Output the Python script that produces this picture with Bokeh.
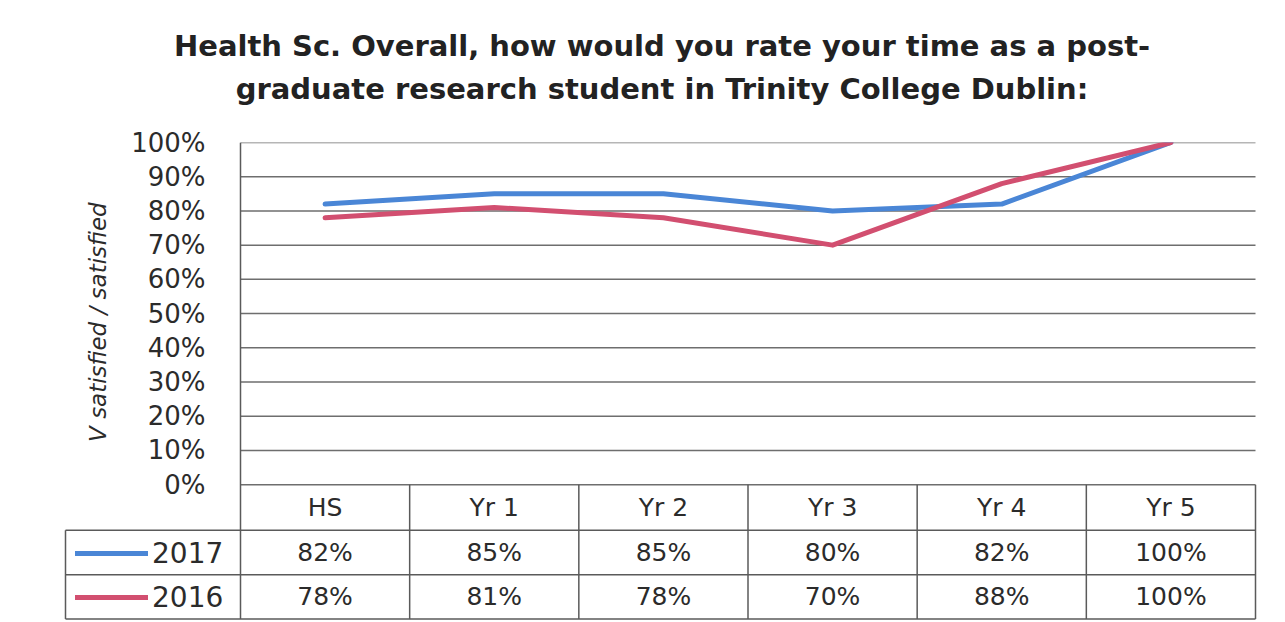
from math import pi
from bokeh.plotting import figure
from bokeh.models import Range1d, FixedTicker, Label, Legend, LegendItem, Title
from bokeh.embed import file_html
from bokeh.resources import INLINE
from bokeh.core.properties import value

categories = ["HS", "Yr 1", "Yr 2", "Yr 3", "Yr 4", "Yr 5"]
series_names = ["2017", "2016"]
values_2017 = [82, 85, 85, 80, 82, 100]
values_2016 = [78, 81, 78, 70, 88, 100]
y_ticks = [0, 10, 20, 30, 40, 50, 60, 70, 80, 90, 100]
title_lines = ["Health Sc. Overall, how would you rate your time as a post-",
               "graduate research student in Trinity College Dublin:"]
y_title = "V satisfied / satisfied"

BLUE = "#4a86d6"
PINK = "#d24f70"
GRID = "#6e6e6e"
BORDER = "#5a5a5a"
TEXT = "#2b2b2b"
FONT = "DejaVu Sans"

n = len(categories)
xs = list(range(n))
bounds = [i - 0.5 for i in range(n + 1)]

# layout constants (table rows below the 0% line, in y-data units)
legend_w = 175 / (1015 / n)        # width of the legend column in category units
tbl_left = -0.5 - legend_w
row_edges = [0, -13.3, -26.3, -39.3]

p = figure(width=1284, height=621,
           x_range=Range1d(-0.5 - 179 / (1015 / n), 5.5 + 7 / (1015 / n)),
           y_range=Range1d(-40, 100),
           output_backend="svg", toolbar_location=None, x_axis_location=None,
           min_border_left=61, min_border_right=22, min_border_top=142, min_border_bottom=0,
           outline_line_color=None, background_fill_color="white", border_fill_color="white",
           title=title_lines[0])
p.grid.visible = False

# titles
p.title.align = "center"
p.title.text_font = FONT
p.title.text_font_style = "bold"
p.title.text_font_size = "29px"
p.title.text_color = "#222222"
p.title.standoff = -61
t2 = Title(text=title_lines[1], align="center", text_font=FONT, text_font_style="bold",
           text_font_size="29px", text_color="#222222", standoff=74)
p.add_layout(t2, "above")

# y axis (labels pulled right to sit next to the plot area)
yax = p.yaxis[0]
yax.ticker = FixedTicker(ticks=y_ticks)
yax.major_label_overrides = {t: f"{t}%" for t in y_ticks}
yax.major_tick_out = 0
yax.major_tick_in = 0
yax.minor_tick_out = 0
yax.minor_tick_in = 0
yax.axis_line_color = None
yax.major_label_standoff = -144
yax.major_label_text_font = FONT
yax.major_label_text_font_size = "26px"
yax.major_label_text_color = TEXT

p.add_layout(Label(x=tbl_left + 32 / (1015 / n), y=47.5, text=y_title, angle=pi / 2,
                   text_align="center", text_baseline="middle", text_font=FONT,
                   text_font_style="italic", text_font_size="23px", text_color=TEXT))

# gridlines of the plot area
p.segment(x0=[-0.5] * len(y_ticks), y0=y_ticks, x1=[n - 0.5] * len(y_ticks), y1=y_ticks,
          line_color=GRID, line_width=1.5)
# left border of plot area + table column boundaries
p.segment(x0=[-0.5], y0=[row_edges[-1]], x1=[-0.5], y1=[100], line_color=BORDER, line_width=1.5)
p.segment(x0=bounds[1:], y0=[row_edges[-1]] * n, x1=bounds[1:], y1=[0] * n,
          line_color=BORDER, line_width=1.5)
# table horizontal lines and legend column left border
p.segment(x0=[tbl_left] * 3, y0=row_edges[1:], x1=[n - 0.5] * 3, y1=row_edges[1:],
          line_color=BORDER, line_width=1.5)
p.segment(x0=[tbl_left], y0=[row_edges[1]], x1=[tbl_left], y1=[row_edges[3]],
          line_color=BORDER, line_width=1.5)

# header row and value rows
p.text(x=xs, y=[(row_edges[0] + row_edges[1]) / 2] * n, text=categories, text_align="center",
       text_baseline="middle", text_font=value(FONT), text_font_size="25px", text_color=TEXT)
p.text(x=xs, y=[(row_edges[1] + row_edges[2]) / 2] * n, text=[f"{v}%" for v in values_2017],
       text_align="center", text_baseline="middle", text_font=value(FONT),
       text_font_size="25px", text_color=TEXT)
p.text(x=xs, y=[(row_edges[2] + row_edges[3]) / 2] * n, text=[f"{v}%" for v in values_2016],
       text_align="center", text_baseline="middle", text_font=value(FONT),
       text_font_size="25px", text_color=TEXT)

# series lines
r17 = p.line(xs, values_2017, line_color=BLUE, line_width=5, line_cap="round", line_join="round")
r16 = p.line(xs, values_2016, line_color=PINK, line_width=5, line_cap="round", line_join="round")

legend = Legend(items=[LegendItem(label=series_names[0], renderers=[r17]),
                       LegendItem(label=series_names[1], renderers=[r16])],
                location=(14, 2), orientation="vertical", glyph_width=73, glyph_height=44,
                label_height=44, spacing=0, padding=0, margin=0, label_standoff=4,
                border_line_color=None, background_fill_alpha=0,
                label_text_font=FONT, label_text_font_size="28px", label_text_color=TEXT)
p.add_layout(legend)

open("out.html", "w").write(file_html(p, INLINE))
